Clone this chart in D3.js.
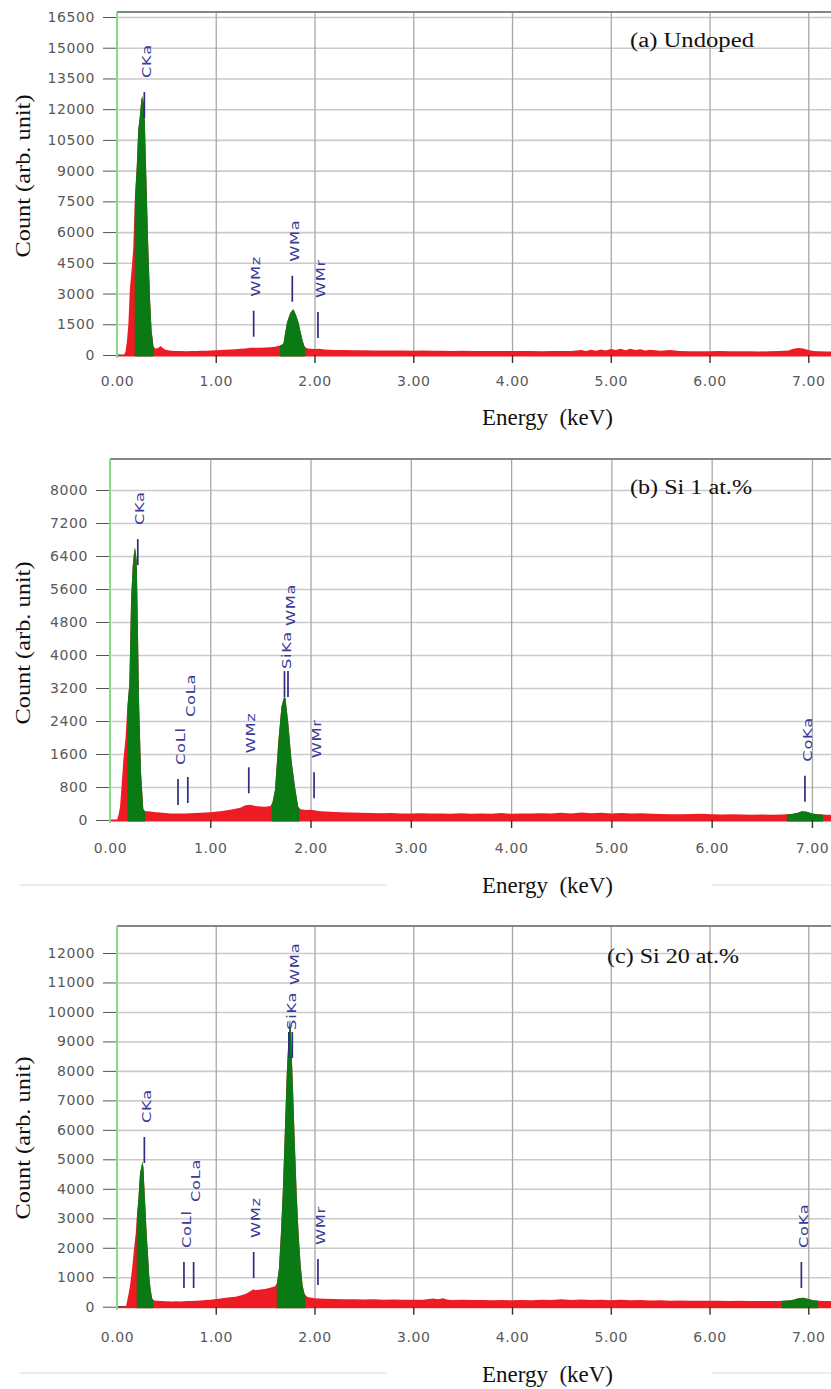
<!DOCTYPE html>
<html>
<head>
<meta charset="utf-8">
<script src="https://cdn.jsdelivr.net/npm/d3@7"></script>
<style>
  body { margin: 0; background: #fff; }
  svg { display: block; }
  .tick text { font-family: "DejaVu Sans", Verdana, sans-serif; font-size: 14px; fill: #595959; letter-spacing: 0.6px; }
  .serif { font-family: "Liberation Serif", "Times New Roman", serif; fill: #111; white-space: pre; }
  .peak { font-family: "DejaVu Sans", sans-serif; font-size: 13px; fill: #3a3a98; letter-spacing: 0.6px; }
</style>
</head>
<body>
<script>
// ---- data ----
const kevTicks = [0, 1, 2, 3, 4, 5, 6, 7];

// (a) undoped
const undopedEnergy = [
  0.00, 0.07, 0.085, 0.10, 0.115, 0.13, 0.15, 0.165, 0.18, 0.20,
  0.215, 0.23, 0.245, 0.255, 0.265, 0.275, 0.285, 0.30, 0.315, 0.335,
  0.35, 0.37, 0.39, 0.42, 0.44, 0.46, 0.49, 0.55, 0.60, 0.65,
  0.70, 0.75, 0.80, 0.85, 0.90, 0.95, 1.00, 1.05, 1.10, 1.15,
  1.20, 1.25, 1.30, 1.35, 1.40, 1.45, 1.50, 1.55, 1.60, 1.63,
  1.66, 1.685, 1.70, 1.72, 1.74, 1.755, 1.77, 1.785, 1.80, 1.82,
  1.84, 1.86, 1.88, 1.90, 1.93, 1.96, 2.00, 2.05, 2.10, 2.15,
  2.20, 2.30, 2.40, 2.50, 2.60, 2.70, 2.80, 2.90, 3.00, 3.10,
  3.20, 3.30, 3.40, 3.50, 3.60, 3.70, 3.80, 3.90, 4.00, 4.10,
  4.20, 4.30, 4.40, 4.50, 4.60, 4.70, 4.75, 4.80, 4.85, 4.90,
  4.95, 5.00, 5.05, 5.10, 5.15, 5.20, 5.25, 5.30, 5.35, 5.40,
  5.50, 5.60, 5.70, 5.80, 5.90, 6.00, 6.10, 6.20, 6.30, 6.40,
  6.50, 6.60, 6.70, 6.80, 6.85, 6.90, 6.95, 7.00, 7.05, 7.10,
  7.20, 7.25
];
const undopedCount = [
  0, 0, 150, 650, 1500, 3200, 4300, 5250, 7500, 9200,
  11000, 11600, 12400, 12650, 12250, 12600, 10800, 8200, 5500, 2700,
  1200, 420, 300, 360, 440, 350, 260, 210, 190, 200,
  185, 200, 195, 210, 205, 220, 230, 240, 260, 270,
  280, 300, 320, 350, 360, 350, 370, 380, 400, 440,
  480, 550, 1000, 1550, 1850, 2050, 2150, 2230, 2100, 1850,
  1550, 1100, 700, 400, 320, 300, 290, 300, 270, 260,
  250, 240, 230, 235, 220, 225, 215, 220, 210, 215,
  205, 210, 200, 205, 200, 195, 200, 190, 195, 190,
  195, 185, 190, 200, 190, 240, 200, 260, 210, 270,
  220, 290, 240, 300, 230, 310, 240, 280, 220, 260,
  210, 250, 190, 180, 185, 180, 190, 180, 185, 180,
  175, 180, 190, 220, 300, 340, 320, 240, 190, 180,
  175, 170
];
const undopedTicks = [0, 1500, 3000, 4500, 6000, 7500, 9000, 10500, 12000, 13500, 15000, 16500];
const undopedRoi = [[0.18, 0.37], [1.65, 1.905]];
const undopedLines = ['CKa', 'WMz', 'WMa', 'WMr'];
const undopedLineKev = [0.277, 1.384, 1.775, 2.035];
const undopedLineCount = [11570, 893, 2600, 830];

// (b) Si 1 at.%
const si1Energy = [
  0.00, 0.07, 0.085, 0.10, 0.115, 0.133, 0.156, 0.173, 0.193, 0.21,
  0.226, 0.24, 0.25, 0.258, 0.266, 0.276, 0.29, 0.31, 0.332, 0.35,
  0.38, 0.42, 0.46, 0.50, 0.55, 0.60, 0.65, 0.70, 0.75, 0.80,
  0.85, 0.90, 0.95, 1.00, 1.05, 1.10, 1.15, 1.20, 1.25, 1.30,
  1.35, 1.40, 1.45, 1.50, 1.55, 1.60, 1.62, 1.645, 1.68, 1.71,
  1.737, 1.75, 1.778, 1.81, 1.844, 1.877, 1.90, 1.95, 2.00, 2.05,
  2.10, 2.20, 2.30, 2.40, 2.50, 2.60, 2.70, 2.80, 2.90, 3.00,
  3.10, 3.20, 3.30, 3.40, 3.50, 3.60, 3.70, 3.80, 3.90, 4.00,
  4.10, 4.20, 4.30, 4.40, 4.50, 4.60, 4.70, 4.80, 4.90, 5.00,
  5.10, 5.20, 5.30, 5.40, 5.50, 5.60, 5.70, 5.80, 5.90, 6.00,
  6.10, 6.20, 6.30, 6.40, 6.50, 6.60, 6.70, 6.75, 6.80, 6.85,
  6.90, 6.95, 7.00, 7.05, 7.10, 7.15, 7.20
];
const si1Count = [
  0, 0, 120, 320, 800, 1450, 2020, 2750, 3300, 5330,
  6140, 6500, 6600, 6450, 6300, 5000, 2830, 1130, 260, 210,
  210, 200, 190, 180, 170, 160, 155, 160, 160, 165,
  170, 175, 180, 190, 200, 215, 230, 250, 270, 300,
  360, 370, 340, 330, 320, 340, 420, 730, 1940, 2750,
  2990, 2950, 2340, 1450, 810, 320, 260, 240, 250, 230,
  210, 200, 185, 180, 175, 170, 165, 170, 160, 160,
  165, 155, 160, 150, 165, 150, 160, 150, 170, 150,
  160, 155, 165, 160, 175, 160, 180, 165, 175, 160,
  170, 160, 165, 150, 145, 140, 140, 145, 150, 140,
  135, 140, 135, 130, 135, 130, 135, 140, 145, 170,
  210, 200, 160, 140, 135, 130, 130
];
const si1Ticks = [0, 800, 1600, 2400, 3200, 4000, 4800, 5600, 6400, 7200, 8000];
const si1Roi = [[0.173, 0.35], [1.612, 1.887], [6.75, 7.11]];
const si1Lines = ['CKa', 'CoLl', 'CoLa', 'WMz', 'SiKa', 'WMa', 'WMr', 'CoKa'];
const si1LineKev = [0.277, 0.678, 0.776, 1.384, 1.740, 1.775, 2.035, 6.930];
const si1LineCount = [6180, 364, 412, 647, 2980, 2980, 526, 444];

// (c) Si 20 at.%
const si20Energy = [
  0.00, 0.09, 0.10, 0.115, 0.13, 0.15, 0.165, 0.18, 0.19, 0.20,
  0.216, 0.233, 0.25, 0.26, 0.268, 0.277, 0.29, 0.30, 0.315, 0.327,
  0.34, 0.355, 0.37, 0.40, 0.45, 0.50, 0.55, 0.60, 0.65, 0.70,
  0.75, 0.80, 0.85, 0.90, 0.95, 1.00, 1.05, 1.10, 1.15, 1.20,
  1.25, 1.30, 1.35, 1.38, 1.40, 1.45, 1.50, 1.55, 1.60, 1.62,
  1.64, 1.66, 1.68, 1.70, 1.72, 1.735, 1.745, 1.752, 1.76, 1.78,
  1.80, 1.82, 1.84, 1.86, 1.88, 1.90, 1.93, 1.97, 2.00, 2.05,
  2.10, 2.20, 2.30, 2.40, 2.50, 2.60, 2.70, 2.80, 2.90, 3.00,
  3.10, 3.20, 3.25, 3.30, 3.35, 3.40, 3.50, 3.60, 3.70, 3.80,
  3.90, 4.00, 4.10, 4.20, 4.30, 4.40, 4.50, 4.60, 4.70, 4.80,
  4.90, 5.00, 5.10, 5.20, 5.30, 5.40, 5.50, 5.60, 5.70, 5.80,
  5.90, 6.00, 6.10, 6.20, 6.30, 6.40, 6.50, 6.60, 6.70, 6.75,
  6.80, 6.85, 6.90, 6.95, 7.00, 7.05, 7.10, 7.15, 7.25
];
const si20Count = [
  0, 0, 150, 400, 680, 1200, 1700, 2200, 2490, 3000,
  3620, 4525, 4800, 4920, 4700, 4070, 3200, 2490, 1700, 1020,
  600, 285, 220, 200, 190, 185, 180, 185, 180, 190,
  195, 200, 210, 230, 240, 260, 280, 300, 320, 340,
  380, 430, 520, 590, 560, 580, 600, 640, 690, 800,
  1300, 2500, 4000, 6000, 8000, 9000, 9500, 9750, 9400, 7600,
  5600, 3800, 2400, 1400, 700, 420, 330, 300, 290, 280,
  270, 260, 250, 255, 245, 250, 240, 245, 240, 235,
  240, 280, 250, 290, 240, 230, 235, 225, 230, 220,
  225, 220, 225, 220, 240, 225, 250, 230, 245, 225,
  240, 220, 235, 215, 230, 210, 215, 205, 210, 205,
  200, 205, 200, 195, 200, 195, 190, 195, 190, 200,
  210, 240, 290, 300, 260, 220, 200, 195, 190
];
const si20Ticks = [0, 1000, 2000, 3000, 4000, 5000, 6000, 7000, 8000, 9000, 10000, 11000, 12000];
const si20Roi = [[0.20, 0.368], [1.618, 1.905], [6.73, 7.10]];
const si20Lines = ['CKa', 'CoLl', 'CoLa', 'WMz', 'SiKa', 'WMa', 'WMr', 'CoKa'];
const si20LineKev = [0.277, 0.678, 0.776, 1.384, 1.740, 1.775, 2.035, 6.930];
const si20LineCount = [4875, 634, 634, 974, 8440, 8440, 736, 634];

// ---- page layout (pixels) ----
const W = 831, H = 1389;
const panels = [
  { title: '(a) Undoped', titleX: 630, titleY: 47, titleW: 124,
    energy: undopedEnergy, count: undopedCount, ticks: undopedTicks, roi: undopedRoi,
    lines: undopedLines, lineKev: undopedLineKev, lineCount: undopedLineCount,
    left: 117, top: 12, y0: 355, yTopPx: 17, xMax: 7.23, yMax: 16500,
    xPad: 13, energyY: 425, countY: 176, gap: {}, faint: null },
  { title: '(b) Si 1 at.%', titleX: 630, titleY: 494, titleW: 122,
    energy: si1Energy, count: si1Count, ticks: si1Ticks, roi: si1Roi,
    lines: si1Lines, lineKev: si1LineKev, lineCount: si1LineCount,
    left: 110, top: 459, y0: 820, yTopPx: 490, xMax: 7.19, yMax: 8000,
    xPad: 15, energyY: 893, countY: 643, gap: { CoLa: 60, SiKa: 2, WMa: 45 }, faint: 885 },
  { title: '(c) Si 20 at.%', titleX: 607, titleY: 963, titleW: 132,
    energy: si20Energy, count: si20Count, ticks: si20Ticks, roi: si20Roi,
    lines: si20Lines, lineKev: si20LineKev, lineCount: si20LineCount,
    left: 117, top: 926, y0: 1306.7, yTopPx: 953, xMax: 7.23, yMax: 12000,
    xPad: 17, energyY: 1382, countY: 1138, gap: { CoLa: 60, SiKa: 2, WMa: 47 }, faint: 1373 }
];

const svg = d3.select('body')
              .append('svg')
              .attr('width', W)
              .attr('height', H)
              .style('background', '#fff');

panels.forEach((p, i) => {
  const x = d3.scaleLinear().domain([0, p.xMax]).range([p.left, W]);
  const y = d3.scaleLinear().domain([0, p.yMax]).range([p.y0, p.yTopPx]);
  const g = svg.append('g');

  // faint edges of the pasted white boxes
  if (p.faint) {
    [[20, 387], [712, W]].forEach(s => {
      g.append('line').attr('x1', s[0]).attr('x2', s[1])
       .attr('y1', p.faint).attr('y2', p.faint)
       .attr('stroke', '#ececec').attr('stroke-width', 2);
    });
  }

  // grid
  g.append('g')
   .attr('transform', `translate(${p.left},0)`)
   .call(d3.axisLeft(y).tickValues(p.ticks.slice(1)).tickSize(-(W - p.left)).tickFormat(''))
   .call(s => s.select('.domain').remove())
   .selectAll('line').attr('stroke', '#cacaca').attr('stroke-width', 1.6);
  g.append('g')
   .attr('transform', `translate(0,${p.y0})`)
   .call(d3.axisBottom(x).tickValues(kevTicks.slice(1)).tickSize(-(p.y0 - p.top)).tickFormat(''))
   .call(s => s.select('.domain').remove())
   .selectAll('line').attr('stroke', '#a8a8a8').attr('stroke-width', 1.3);

  // zero line
  g.append('line')
   .attr('x1', p.left).attr('x2', W).attr('y1', y(0)).attr('y2', y(0))
   .attr('stroke', '#444').attr('stroke-width', 1.2);

  // spectrum: red everywhere, green inside the peak windows
  const pts = d3.zip(p.energy, p.count);
  const area = d3.area()
                 .x(d => x(d[0]))
                 .y0(y(0) + 1.5)
                 .y1(d => y(d[1]));
  g.append('path').datum(pts).attr('d', area).attr('fill', '#ed1c24');

  const clip = g.append('clipPath').attr('id', 'roi' + i);
  clip.selectAll('rect')
      .data(p.roi)
      .join('rect')
      .attr('x', d => x(d[0]))
      .attr('width', d => x(d[1]) - x(d[0]))
      .attr('y', p.top)
      .attr('height', p.y0 - p.top + 4);
  g.append('path').datum(pts).attr('d', area)
   .attr('fill', '#0a7a14')
   .attr('clip-path', `url(#roi${i})`);

  // peak markers
  const marks = p.lines.map((name, j) => ({ name, kev: p.lineKev[j], count: p.lineCount[j] }));
  const mg = g.append('g').selectAll('g').data(marks).join('g');
  mg.append('line')
    .attr('x1', d => x(d.kev)).attr('x2', d => x(d.kev))
    .attr('y1', d => y(d.count)).attr('y2', d => y(d.count) - 26)
    .attr('stroke', '#2d2d82').attr('stroke-width', 1.7);
  mg.append('text')
    .attr('class', 'peak')
    .attr('transform', d => {
      const gap = p.gap[d.name] !== undefined ? p.gap[d.name] : 14;
      return `translate(${x(d.kev) + 2},${y(d.count) - 26 - gap}) rotate(-90) scale(1.25,1)`;
    })
    .attr('dy', '0.36em')
    .text(d => d.name);

  // frame: grey top rule, green left axis
  g.append('line')
   .attr('x1', p.left).attr('x2', W).attr('y1', p.top).attr('y2', p.top)
   .attr('stroke', '#858585').attr('stroke-width', 2.2);
  g.append('line')
   .attr('x1', p.left).attr('x2', p.left).attr('y1', p.top).attr('y2', p.y0 + 3)
   .attr('stroke', '#86dc86').attr('stroke-width', 2);

  // axes
  g.append('g')
   .attr('transform', `translate(${p.left - 1},0)`)
   .call(d3.axisLeft(y).tickValues(p.ticks).tickFormat(d3.format('d')).tickSize(13).tickPadding(8))
   .call(s => s.select('.domain').remove())
   .call(s => s.selectAll('line').attr('stroke', '#555'));
  g.append('g')
   .attr('transform', `translate(0,${p.y0})`)
   .call(d3.axisBottom(x).tickValues(kevTicks).tickFormat(d3.format('.2f')).tickSize(8).tickPadding(p.xPad))
   .call(s => s.select('.domain').remove())
   .call(s => s.selectAll('line').attr('stroke', d => d === 0 ? 'none' : '#333').attr('stroke-width', 1.4));

  // titles
  g.append('text').attr('class', 'serif')
   .attr('x', p.titleX).attr('y', p.titleY)
   .attr('font-size', 20)
   .attr('textLength', p.titleW).attr('lengthAdjust', 'spacingAndGlyphs')
   .text(p.title);
  g.append('text').attr('class', 'serif')
   .attr('x', 547.5).attr('y', p.energyY)
   .attr('text-anchor', 'middle')
   .attr('font-size', 23)
   .attr('textLength', 131).attr('lengthAdjust', 'spacingAndGlyphs')
   .text('Energy  (keV)');
  g.append('text').attr('class', 'serif')
   .attr('transform', `translate(23,${p.countY}) rotate(-90)`)
   .attr('text-anchor', 'middle')
   .attr('dy', '0.35em')
   .attr('font-size', 21)
   .attr('textLength', 163).attr('lengthAdjust', 'spacingAndGlyphs')
   .text('Count (arb. unit)');
});
</script>
</body>
</html>
